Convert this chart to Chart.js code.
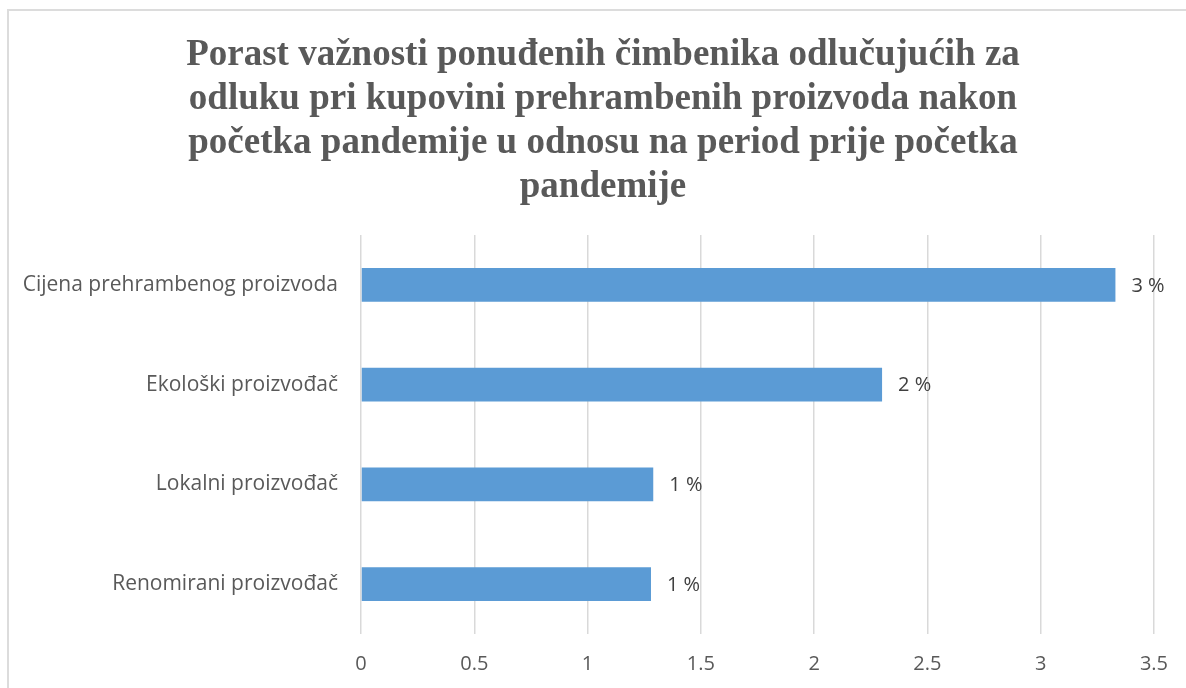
<!DOCTYPE html>
<html>
<head>
<meta charset="utf-8">
<script src="https://cdn.jsdelivr.net/npm/chart.js@4"></script>
<style>
    html, body { margin: 0; padding: 0; background: #fff; }
    #wrap { position: relative; width: 1186px; height: 688px; overflow: hidden; }
    #frame { position: absolute; left: 7px; top: 9px; width: 1200px; height: 700px; border: 2px solid #dcdcdc; box-sizing: border-box; }
    canvas { position: absolute; left: 0; top: 0; }
</style>
</head>
<body>
<div id="wrap">
    <div id="frame"></div>
    <canvas id="chart" width="1186" height="688"></canvas>
</div>
<script>
const categories = ['Cijena prehrambenog proizvoda', 'Ekološki proizvođač', 'Lokalni proizvođač', 'Renomirani proizvođač'];
const values = [3.33, 2.30, 1.29, 1.28];
const titleLines = [
    'Porast važnosti ponuđenih čimbenika odlučujućih za',
    'odluku pri kupovini prehrambenih proizvoda nakon',
    'početka pandemije u odnosu na period prije početka',
    'pandemije'
];

const labelFont = '"Open Sans", "Liberation Sans", sans-serif';

// value labels at the end of each bar
const barLabels = {
    id: 'barLabels',
    afterDatasetsDraw(chart) {
        const ctx = chart.ctx;
        const meta = chart.getDatasetMeta(0);
        ctx.save();
        ctx.font = '20px ' + labelFont;
        ctx.fillStyle = '#404040';
        ctx.textAlign = 'left';
        ctx.textBaseline = 'middle';
        meta.data.forEach((bar, i) => {
            ctx.fillText(Math.round(values[i]) + ' %', bar.x + 16, bar.y + 1);
        });
        ctx.restore();
    }
};

// title sits a bit right of canvas centre, like the original frame
const centredTitle = {
    id: 'centredTitle',
    afterDraw(chart) {
        const ctx = chart.ctx;
        ctx.save();
        ctx.font = 'bold 37px "Liberation Serif", "Times New Roman", serif';
        ctx.fillStyle = '#595959';
        ctx.textAlign = 'center';
        ctx.textBaseline = 'middle';
        titleLines.forEach((line, i) => {
            ctx.fillText(line, 603, 55 + i * 44);
        });
        ctx.restore();
    }
};

const ctx = document.getElementById('chart').getContext('2d');
new Chart(ctx, {
    type: 'bar',
    data: {
        labels: categories,
        datasets: [{
            data: values,
            backgroundColor: '#5b9bd5',
            borderWidth: 0,
            barPercentage: 0.34,
            categoryPercentage: 1
        }]
    },
    options: {
        indexAxis: 'y',
        responsive: false,
        animation: false,
        layout: {
            padding: { top: 235, right: 31, bottom: 0, left: 0 }
        },
        scales: {
            x: {
                min: 0,
                max: 3.5,
                ticks: {
                    stepSize: 0.5,
                    color: '#595959',
                    font: { family: labelFont, size: 20 },
                    padding: 18,
                    callback: (v) => String(v)
                },
                grid: { color: '#d9d9d9', lineWidth: 1.5, drawTicks: false },
                border: { display: false },
                afterFit(scale) { scale.height = 54; }
            },
            y: {
                ticks: {
                    color: '#595959',
                    font: { family: labelFont, size: 21 },
                    padding: 23
                },
                grid: { display: false, drawTicks: false },
                border: { display: false },
                afterFit(scale) { scale.width = 361; }
            }
        },
        plugins: {
            legend: { display: false },
            tooltip: { enabled: false },
            title: { display: false }
        }
    },
    plugins: [barLabels, centredTitle]
});
</script>
</body>
</html>
